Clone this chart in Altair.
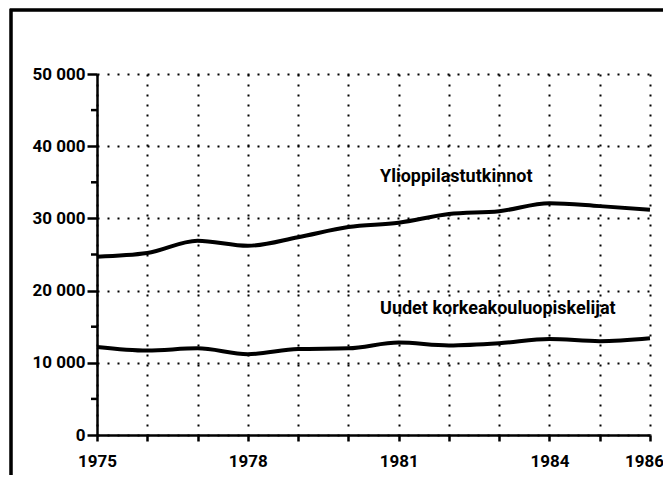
import altair as alt
import pandas as pd

years = [1975, 1976, 1977, 1978, 1979, 1980, 1981, 1982, 1983, 1984, 1985, 1986]
ylioppilas = [24700, 25200, 26900, 26200, 27400, 28800, 29400, 30600, 31000, 32100, 31700, 31200]
uudet = [12200, 11700, 12000, 11200, 11900, 12000, 12800, 12400, 12700, 13300, 13000, 13400]
series_names = ["Ylioppilastutkinnot", "Uudet korkeakouluopiskelijat"]
label_years = [1975, 1978, 1981, 1984, 1986]
y_major = [0, 10000, 20000, 30000, 40000, 50000]
y_minor = [5000, 15000, 25000, 35000, 45000]
label_x = [1980.63, 1980.63]
label_y = [35000, 16800]

FONT = "Roboto, Liberation Sans, sans-serif"

rows = []
for i, yr in enumerate(years):
    rows.append({"year": yr, "value": ylioppilas[i], "series": series_names[0]})
    rows.append({"year": yr, "value": uudet[i], "series": series_names[1]})
df = pd.DataFrame(rows)
df_lab = pd.DataFrame({"year": label_x, "value": label_y, "text": series_names})
df_minor = pd.DataFrame({"value": y_minor})

W, H = 553, 361

xscale = alt.Scale(domain=[1975, 1986], nice=False, zero=False)
yscale = alt.Scale(domain=[0, 50000], nice=False)

label_expr = "indexof([" + ",".join(str(v) for v in label_years) + "], datum.value) >= 0 ? datum.value : ''"
last_year = label_years[-1]

lines = alt.Chart(df).mark_line(
    color="black", strokeWidth=4, interpolate="monotone"
).encode(
    x=alt.X("year:Q", scale=xscale, title=None,
            axis=alt.Axis(values=years, labelExpr=label_expr, tickSize=6,
                          labelPadding=12, grid=True,
                          labelOffset={"condition": {"test": f"datum.value == {last_year}", "value": -6},
                                       "value": 0})),
    y=alt.Y("value:Q", scale=yscale, title=None,
            axis=alt.Axis(values=y_major, tickSize=10, labelPadding=2,
                          labelExpr="replace(format(datum.value, ','), ',', ' ')",
                          grid=True)),
    detail="series:N",
)

minor = alt.Chart(df_minor).mark_rule(color="black", strokeWidth=2.5).encode(
    y=alt.Y("value:Q", scale=yscale),
    x=alt.value(-6),
    x2=alt.value(0),
)

labels = alt.Chart(df_lab).mark_text(
    align="left", baseline="alphabetic", font=FONT, fontSize=18,
    fontWeight="bold", color="black"
).encode(
    x=alt.X("year:Q", scale=xscale),
    y=alt.Y("value:Q", scale=yscale),
    text="text:N",
)

frame = alt.Chart(df_minor).mark_rect(
    fill=None, stroke="black", strokeWidth=2.5
).encode(
    x=alt.value(-86), x2=alt.value(700),
    y=alt.value(-64), y2=alt.value(H + 80),
)

chart = alt.layer(frame, lines, minor, labels).properties(
    width=W, height=H,
    autosize=alt.AutoSizeParams(type="none"),
    padding={"left": 89, "top": 66, "right": 13, "bottom": 40},
).configure_view(
    stroke=None
).configure_axis(
    domainColor="black", domainWidth=2.5, tickColor="black", tickWidth=2.5,
    labelFont=FONT, labelFontSize=17, labelFontWeight="bold", labelColor="black",
    gridColor="black", gridWidth=2, gridDash=[2, 8], gridOpacity=1,
    labelFlush=False, labelOverlap=False,
).configure_axisX(labelAngle=0)

chart.save("out.html", embed_options={"renderer": "svg", "actions": False})
